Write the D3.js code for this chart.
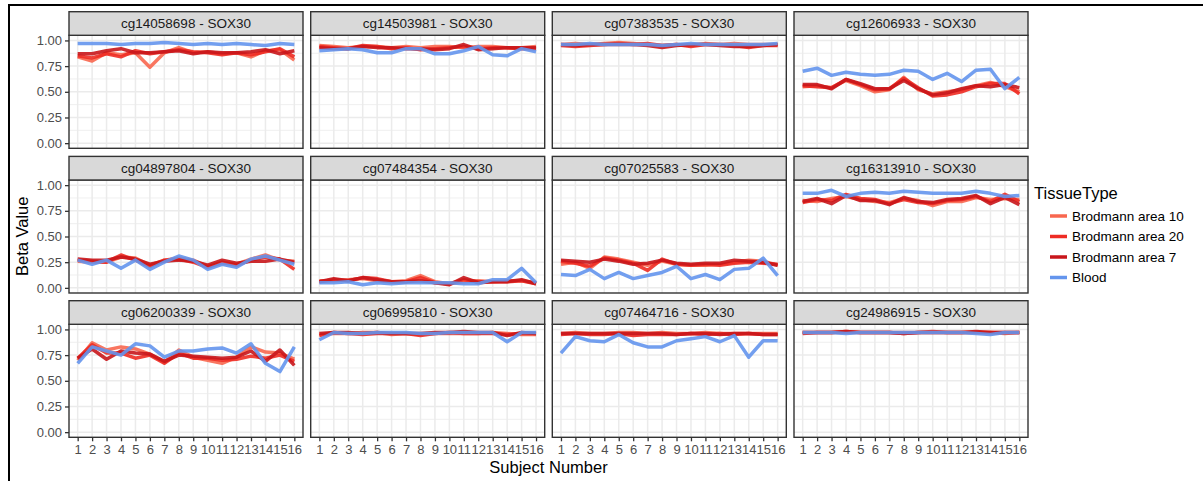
<!DOCTYPE html>
<html>
<head>
<meta charset="utf-8">
<script src="https://cdn.jsdelivr.net/npm/d3@7"></script>
<style>
  body { margin: 0; background: #fff; }
  text { font-family: "Liberation Sans", Arial, Helvetica, sans-serif; }
</style>
</head>
<body>
<script>
const svgWidth = 1203;
const svgHeight = 481;

// facet labels (probe - gene)
const probes = ["cg14058698", "cg14503981", "cg07383535", "cg12606933",
                "cg04897804", "cg07484354", "cg07025583", "cg16313910",
                "cg06200339", "cg06995810", "cg07464716", "cg24986915"];
const gene = "SOX30";
const tissues = ["Brodmann area 10", "Brodmann area 20", "Brodmann area 7", "Blood"];
const subjects = d3.range(1, 17);
const yTicks = [0, 0.25, 0.5, 0.75, 1];

// beta values, one row per probe, one column per subject
const ba10 = [
  [0.84,0.80,0.88,0.86,0.88,0.74,0.88,0.93,0.88,0.89,0.87,0.88,0.84,0.90,0.91,0.81],
  [0.95,0.94,0.93,0.94,0.94,0.93,0.94,0.93,0.94,0.94,0.93,0.94,0.94,0.93,0.93,0.94],
  [0.96,0.97,0.96,0.97,0.98,0.97,0.96,0.95,0.96,0.95,0.97,0.96,0.97,0.96,0.96,0.96],
  [0.55,0.56,0.54,0.61,0.56,0.50,0.52,0.64,0.52,0.48,0.50,0.52,0.56,0.59,0.55,0.50],
  [0.26,0.25,0.25,0.30,0.29,0.22,0.27,0.29,0.27,0.21,0.24,0.23,0.28,0.32,0.27,0.26],
  [0.07,0.07,0.08,0.09,0.07,0.06,0.07,0.12,0.06,0.04,0.06,0.07,0.06,0.07,0.07,0.05],
  [0.23,0.25,0.19,0.30,0.28,0.25,0.22,0.26,0.23,0.22,0.22,0.23,0.25,0.27,0.26,0.22],
  [0.85,0.84,0.87,0.89,0.86,0.84,0.83,0.87,0.85,0.80,0.84,0.84,0.88,0.86,0.87,0.86],
  [0.70,0.87,0.80,0.83,0.81,0.76,0.68,0.80,0.73,0.70,0.67,0.73,0.83,0.78,0.77,0.71],
  [0.95,0.96,0.96,0.97,0.97,0.95,0.96,0.95,0.96,0.96,0.96,0.96,0.97,0.96,0.95,0.95],
  [0.96,0.97,0.96,0.96,0.97,0.97,0.96,0.97,0.96,0.96,0.97,0.96,0.96,0.96,0.96,0.96],
  [0.97,0.97,0.97,0.97,0.97,0.97,0.97,0.97,0.97,0.97,0.97,0.97,0.97,0.97,0.96,0.97]
];
const ba20 = [
  [0.85,0.83,0.87,0.84,0.90,0.87,0.89,0.91,0.89,0.88,0.86,0.88,0.86,0.89,0.92,0.84],
  [0.94,0.93,0.92,0.95,0.94,0.92,0.93,0.91,0.92,0.93,0.94,0.92,0.93,0.93,0.92,0.92],
  [0.95,0.94,0.95,0.96,0.97,0.96,0.97,0.95,0.96,0.94,0.96,0.96,0.95,0.93,0.95,0.95],
  [0.56,0.55,0.54,0.62,0.57,0.52,0.53,0.63,0.54,0.46,0.47,0.50,0.55,0.58,0.58,0.48],
  [0.27,0.26,0.25,0.32,0.27,0.21,0.27,0.28,0.25,0.20,0.25,0.22,0.27,0.30,0.28,0.18],
  [0.06,0.08,0.07,0.10,0.09,0.06,0.06,0.10,0.05,0.04,0.08,0.06,0.06,0.06,0.07,0.04],
  [0.26,0.24,0.21,0.29,0.27,0.24,0.17,0.28,0.23,0.22,0.23,0.22,0.24,0.25,0.24,0.23],
  [0.83,0.86,0.85,0.91,0.87,0.86,0.82,0.86,0.83,0.82,0.85,0.86,0.89,0.84,0.91,0.84],
  [0.72,0.85,0.77,0.77,0.72,0.75,0.67,0.77,0.72,0.72,0.70,0.71,0.74,0.72,0.75,0.69],
  [0.94,0.97,0.96,0.95,0.96,0.96,0.96,0.94,0.96,0.97,0.96,0.96,0.96,0.95,0.96,0.96],
  [0.95,0.96,0.95,0.95,0.96,0.94,0.95,0.95,0.95,0.96,0.95,0.96,0.95,0.96,0.95,0.95],
  [0.96,0.97,0.97,0.98,0.97,0.97,0.97,0.96,0.97,0.98,0.97,0.97,0.97,0.97,0.97,0.97]
];
const ba7 = [
  [0.87,0.87,0.90,0.92,0.88,0.88,0.89,0.90,0.87,0.89,0.88,0.88,0.89,0.91,0.87,0.90],
  [0.93,0.92,0.92,0.94,0.93,0.93,0.92,0.92,0.91,0.92,0.96,0.91,0.92,0.93,0.93,0.93],
  [0.96,0.95,0.96,0.96,0.96,0.96,0.95,0.93,0.95,0.96,0.96,0.95,0.94,0.94,0.95,0.96],
  [0.57,0.57,0.53,0.62,0.58,0.53,0.53,0.61,0.53,0.47,0.49,0.53,0.56,0.55,0.57,0.54],
  [0.28,0.27,0.27,0.30,0.28,0.23,0.26,0.27,0.26,0.22,0.27,0.24,0.26,0.26,0.28,0.25],
  [0.06,0.09,0.07,0.10,0.08,0.06,0.06,0.07,0.05,0.03,0.10,0.05,0.06,0.06,0.08,0.04],
  [0.27,0.26,0.25,0.28,0.26,0.23,0.24,0.27,0.24,0.23,0.24,0.24,0.27,0.26,0.25,0.22],
  [0.84,0.87,0.82,0.90,0.85,0.85,0.81,0.88,0.84,0.83,0.86,0.87,0.90,0.82,0.88,0.81],
  [0.72,0.81,0.71,0.79,0.77,0.76,0.69,0.75,0.74,0.73,0.72,0.73,0.79,0.69,0.80,0.65],
  [0.96,0.97,0.97,0.96,0.97,0.96,0.96,0.96,0.97,0.97,0.98,0.97,0.97,0.94,0.97,0.96],
  [0.96,0.96,0.96,0.96,0.96,0.96,0.96,0.96,0.95,0.96,0.96,0.95,0.96,0.96,0.95,0.95],
  [0.97,0.97,0.97,0.98,0.97,0.97,0.97,0.96,0.97,0.97,0.97,0.97,0.98,0.97,0.97,0.97]
];
const blood = [
  [0.97,0.97,0.97,0.96,0.97,0.97,0.98,0.97,0.96,0.97,0.96,0.97,0.96,0.95,0.97,0.96],
  [0.90,0.91,0.92,0.91,0.88,0.88,0.92,0.92,0.87,0.87,0.90,0.94,0.86,0.85,0.92,0.89],
  [0.96,0.96,0.97,0.96,0.96,0.96,0.96,0.95,0.96,0.97,0.96,0.96,0.96,0.96,0.96,0.97],
  [0.70,0.73,0.66,0.69,0.67,0.66,0.67,0.71,0.70,0.62,0.68,0.60,0.71,0.72,0.53,0.64],
  [0.27,0.23,0.27,0.19,0.27,0.18,0.25,0.31,0.27,0.18,0.23,0.20,0.28,0.31,0.27,0.23],
  [0.05,0.05,0.06,0.03,0.05,0.04,0.05,0.05,0.05,0.05,0.04,0.04,0.08,0.08,0.19,0.05],
  [0.13,0.12,0.18,0.09,0.15,0.09,0.12,0.15,0.21,0.09,0.13,0.08,0.18,0.19,0.29,0.12],
  [0.92,0.92,0.95,0.89,0.92,0.93,0.92,0.94,0.93,0.92,0.92,0.92,0.94,0.92,0.89,0.90],
  [0.67,0.83,0.79,0.75,0.86,0.84,0.73,0.79,0.79,0.81,0.82,0.77,0.86,0.67,0.59,0.83],
  [0.90,0.97,0.96,0.96,0.97,0.97,0.97,0.96,0.96,0.97,0.97,0.97,0.97,0.88,0.97,0.97],
  [0.77,0.93,0.89,0.88,0.95,0.87,0.83,0.83,0.89,0.91,0.93,0.88,0.94,0.73,0.89,0.89],
  [0.97,0.97,0.97,0.96,0.97,0.97,0.97,0.97,0.97,0.97,0.97,0.97,0.96,0.95,0.97,0.97]
];
const seriesValues = [ba10, ba20, ba7, blood];
const tissueColors = ["#F8674F", "#EE2C24", "#C8161B", "#6495ED"];

// layout
const colX = [69, 310.7, 552.3, 794];
const rowY = [35.3, 180, 324.3];   // panel tops
const panelW = 234;
const panelH = 113;
const stripH = 23.6;

const svg = d3.select("body").append("svg")
  .attr("width", svgWidth)
  .attr("height", svgHeight);

svg.append("rect")
  .attr("width", svgWidth).attr("height", svgHeight)
  .attr("fill", "#fff");

// outer frame of the figure
svg.append("rect")
  .attr("x", 9).attr("y", 5)
  .attr("width", svgWidth + 20).attr("height", svgHeight + 20)
  .attr("fill", "none").attr("stroke", "#000").attr("stroke-width", 2);

const color = d3.scaleOrdinal().domain(tissues).range(tissueColors);

probes.forEach((probe, p) => {
  const c = p % 4, r = Math.floor(p / 4);
  const x0 = colX[c], y0 = rowY[r];

  const x = d3.scalePoint().domain(subjects).range([x0, x0 + panelW]).padding(0.6);
  const y = d3.scaleLinear().domain([-0.05, 1.05]).range([y0 + panelH, y0]);

  const g = svg.append("g");

  // panel background + grid
  g.append("rect")
    .attr("x", x0).attr("y", y0).attr("width", panelW).attr("height", panelH)
    .attr("fill", "#fff");

  const minor = d3.range(0.125, 1, 0.25);
  g.selectAll(".ymin").data(minor).enter().append("line")
    .attr("x1", x0).attr("x2", x0 + panelW)
    .attr("y1", d => y(d)).attr("y2", d => y(d))
    .attr("stroke", "#EBEBEB").attr("stroke-width", 0.8);
  g.selectAll(".ymaj").data(yTicks).enter().append("line")
    .attr("x1", x0).attr("x2", x0 + panelW)
    .attr("y1", d => y(d)).attr("y2", d => y(d))
    .attr("stroke", "#EBEBEB").attr("stroke-width", 1.5);
  g.selectAll(".xmaj").data(subjects).enter().append("line")
    .attr("x1", d => x(d)).attr("x2", d => x(d))
    .attr("y1", y0).attr("y2", y0 + panelH)
    .attr("stroke", "#EBEBEB").attr("stroke-width", 1.5);

  // lines
  const line = d3.line().x((d, i) => x(subjects[i])).y(d => y(d));
  tissues.forEach((t, k) => {
    g.append("path")
      .datum(seriesValues[k][p])
      .attr("d", line)
      .attr("fill", "none")
      .attr("stroke", color(t))
      .attr("stroke-width", 3.5)
      .attr("stroke-opacity", 0.9)
      .attr("stroke-linejoin", "round");
  });

  // panel border
  g.append("rect")
    .attr("x", x0).attr("y", y0).attr("width", panelW).attr("height", panelH)
    .attr("fill", "none").attr("stroke", "#333").attr("stroke-width", 1.4);

  // strip
  g.append("rect")
    .attr("x", x0).attr("y", y0 - stripH).attr("width", panelW).attr("height", stripH)
    .attr("fill", "#D9D9D9").attr("stroke", "#333").attr("stroke-width", 1.4);
  g.append("text")
    .attr("x", x0 + panelW / 2).attr("y", y0 - stripH / 2)
    .attr("dy", "0.35em")
    .attr("text-anchor", "middle")
    .attr("font-size", 13.5)
    .attr("fill", "#1A1A1A")
    .text(probe + " - " + gene);

  // y axis on first column
  if (c === 0) {
    const ya = g.append("g")
      .attr("transform", `translate(${x0},0)`)
      .call(d3.axisLeft(y).tickValues(yTicks).tickFormat(d3.format(".2f")).tickSize(4).tickPadding(3));
    ya.select(".domain").remove();
    ya.selectAll(".tick line").attr("stroke", "#333").attr("stroke-width", 1.3);
    ya.selectAll(".tick text").attr("fill", "#4D4D4D").attr("font-size", 13)
      .attr("font-family", "Liberation Sans, Arial, sans-serif");
  }
  // x axis on last row
  if (r === 2) {
    const xa = g.append("g")
      .attr("transform", `translate(0,${y0 + panelH})`)
      .call(d3.axisBottom(x).tickSize(4).tickPadding(3));
    xa.select(".domain").remove();
    xa.selectAll(".tick line").attr("stroke", "#333").attr("stroke-width", 1.3);
    xa.selectAll(".tick text").attr("fill", "#4D4D4D").attr("font-size", 13)
      .attr("font-family", "Liberation Sans, Arial, sans-serif");
  }
});

// axis titles
svg.append("text")
  .attr("transform", `translate(28,${(rowY[0] + rowY[2] + panelH) / 2}) rotate(-90)`)
  .attr("text-anchor", "middle")
  .attr("font-size", 16.5)
  .attr("fill", "#000")
  .text("Beta Value");

svg.append("text")
  .attr("x", (colX[0] + colX[3] + panelW) / 2)
  .attr("y", 473)
  .attr("text-anchor", "middle")
  .attr("font-size", 16.5)
  .attr("fill", "#000")
  .text("Subject Number");

// legend
const legend = svg.append("g").attr("transform", "translate(1034,0)");
legend.append("text")
  .attr("x", 0).attr("y", 199)
  .attr("font-size", 16.5)
  .text("TissueType");

const items = legend.selectAll(".item").data(tissues).enter().append("g")
  .attr("transform", (d, i) => `translate(0,${216 + i * 20.5})`);
items.append("line")
  .attr("x1", 16).attr("x2", 33).attr("y1", 0).attr("y2", 0)
  .attr("stroke", d => color(d)).attr("stroke-width", 3.5);
items.append("text")
  .attr("x", 38).attr("dy", "0.35em")
  .attr("font-size", 13.5)
  .text(d => d);
</script>
</body>
</html>
